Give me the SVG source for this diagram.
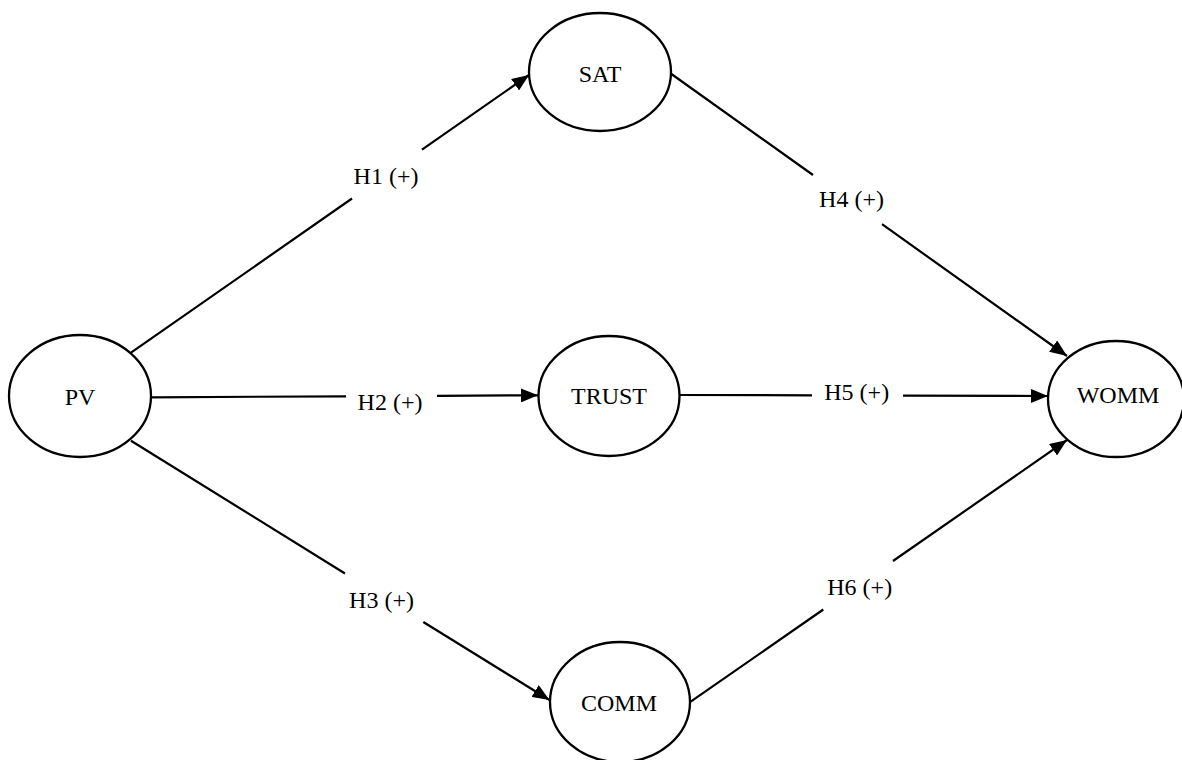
<svg xmlns="http://www.w3.org/2000/svg" width="1182" height="760" viewBox="0 0 1182 760">
<style>
.node{fill:#fff;stroke:#000;stroke-width:2.3}
.lbl{font-family:"Liberation Serif","Times New Roman",serif;font-size:24px;fill:#000;text-anchor:middle}
.edge{fill:none;stroke:#000;stroke-width:2.2}
</style>
<defs>
<marker id="arr" markerUnits="userSpaceOnUse" markerWidth="18" markerHeight="14" refX="17" refY="7" orient="auto">
<path d="M0,0 L17,7 L0,14 Z" fill="#000"/>
</marker>
</defs>
<rect width="1182" height="760" fill="#fff"/>
<g id="connectors">
<path id="e-h1" class="edge" d="M131,352.7 L352,198.5 M422,149.7 L529,75" marker-end="url(#arr)"/>
<path id="e-h2" class="edge" d="M150.5,397.3 L346,396.3 M437,395.8 L538,395.3" marker-end="url(#arr)"/>
<path id="e-h3" class="edge" d="M131,440.7 L345,573.5 M423.3,622 L549.5,700" marker-end="url(#arr)"/>
<path id="e-h4" class="edge" d="M670,73 L813,175 M882,224.2 L1067,356" marker-end="url(#arr)"/>
<path id="e-h5" class="edge" d="M679.3,395 L812,395.3 M903,395.6 L1048,396" marker-end="url(#arr)"/>
<path id="e-h6" class="edge" d="M690.7,701.7 L823.3,609.5 M893,561 L1067,440" marker-end="url(#arr)"/>
<text class="lbl" x="386" y="184">H1 (+)</text>
<text class="lbl" x="390" y="410">H2 (+)</text>
<text class="lbl" x="381.5" y="608">H3 (+)</text>
<text class="lbl" x="851.5" y="207">H4 (+)</text>
<text class="lbl" x="856.7" y="400">H5 (+)</text>
<text class="lbl" x="859.7" y="595">H6 (+)</text>
</g>
<g id="PV"><ellipse class="node" cx="80" cy="396" rx="71" ry="61"/><text class="lbl" x="80" y="405">PV</text></g>
<g id="SAT"><ellipse class="node" cx="600" cy="72" rx="71" ry="59"/><text class="lbl" x="600" y="82">SAT</text></g>
<g id="TRUST"><ellipse class="node" cx="609" cy="396" rx="70.5" ry="60"/><text class="lbl" x="609" y="404">TRUST</text></g>
<g id="WOMM"><ellipse class="node" cx="1116" cy="399" rx="68" ry="58"/><text class="lbl" x="1118" y="403">WOMM</text></g>
<g id="COMM"><ellipse class="node" cx="620" cy="702" rx="70" ry="60"/><text class="lbl" x="619" y="711">COMM</text></g>
</svg>
